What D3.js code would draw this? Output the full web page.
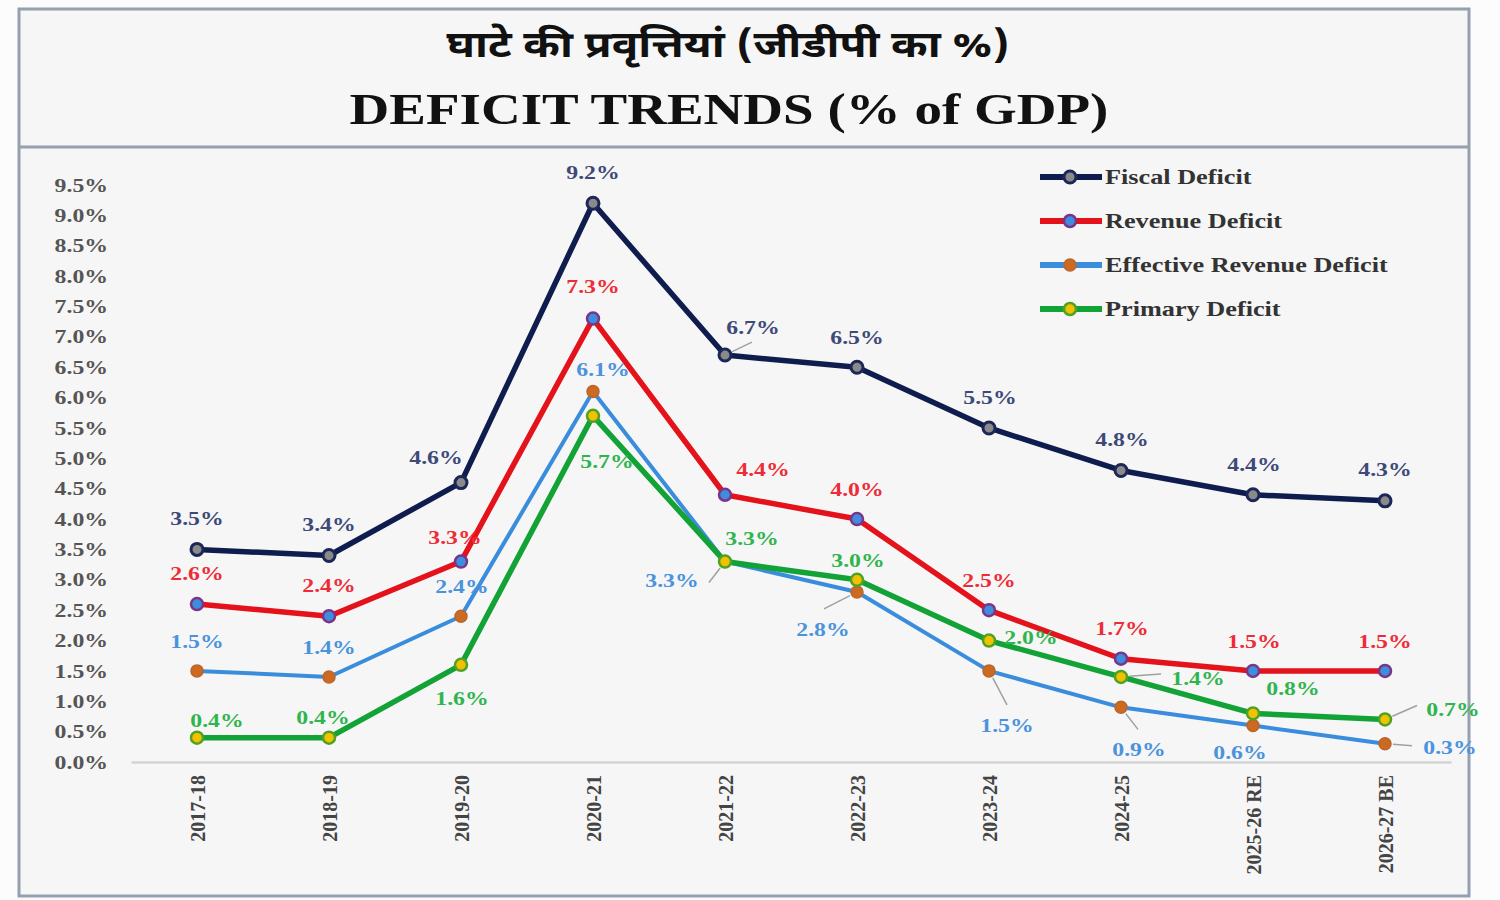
<!doctype html>
<html lang="en">
<head>
<meta charset="utf-8">
<title>Deficit Trends</title>
<script src="https://d3js.org/d3.v7.min.js"></script>
<style>
  html, body { margin: 0; padding: 0; background: #fcfcfc; }
  svg text { font-family: "Liberation Serif", "Times New Roman", serif; font-weight: bold; }
  .hindi { font-family: "Noto Sans Devanagari", "Lohit Devanagari", "FreeSerif", "Noto Sans", sans-serif; }
</style>
</head>
<body>
<div id="chart"></div>
<script>
// ---- data ----
var years = ["2017-18", "2018-19", "2019-20", "2020-21", "2021-22", "2022-23",
             "2023-24", "2024-25", "2025-26 RE", "2026-27 BE"];
var fiscalDeficit    = [3.5, 3.4, 4.6, 9.2, 6.7, 6.5, 5.5, 4.8, 4.4, 4.3];
var revenueDeficit   = [2.6, 2.4, 3.3, 7.3, 4.4, 4.0, 2.5, 1.7, 1.5, 1.5];
var effectiveDeficit = [1.5, 1.4, 2.4, 6.1, 3.3, 2.8, 1.5, 0.9, 0.6, 0.3];
var primaryDeficit   = [0.4, 0.4, 1.6, 5.7, 3.3, 3.0, 2.0, 1.4, 0.8, 0.7];
var seriesNames = ["Fiscal Deficit", "Revenue Deficit", "Effective Revenue Deficit", "Primary Deficit"];
var yTickValues = [0, 0.5, 1, 1.5, 2, 2.5, 3, 3.5, 4, 4.5, 5, 5.5, 6, 6.5, 7, 7.5, 8, 8.5, 9, 9.5];

// label placement relative to each point: [dx, dy] or [dx, dy, leaderX, leaderY]
var fiscalLabelPos = [[0,-31],[0,-31],[-25,-25],[0,-31],[28,-28,27,-13],[0,-30],[1,-31],[1,-31],[1,-30],[0,-31]];
var revenueLabelPos = [[0,-31],[0,-31],[-6,-24],[0,-32],[38,-25],[0,-30],[0,-30],[1,-30],[1,-30],[0,-30]];
var effectiveLabelPos = [[0,-30],[0,-30],[1,-30],[10,-22],[-53,19,-16,21],[-34,37,-33,17],[18,54,18,34],[18,42,17,22],[-13,27],[65,4,27,2]];
var primaryLabelPos = [[20,-17],[-6,-20],[1,34],[14,46],[27,-23],[1,-19],[42,-3],[77,1,40,-3],[40,-25],[68,-10,32,-14]];

var styles = [
  {line: "#0f1d4e", width: 5.5, fill: "#8a8a8a", stroke: "#1c2757", sw: 3, label: "#3d4a78"},
  {line: "#e3121b", width: 5.5, fill: "#3d8fdd", stroke: "#7b3488", sw: 2.5, label: "#ee2c36"},
  {line: "#3a8ddc", width: 4, fill: "#cc6a22", stroke: "#b9652d", sw: 1.5, label: "#4b93dc"},
  {line: "#12a235", width: 5.5, fill: "#f2c200", stroke: "#4fa224", sw: 2.5, label: "#30b54e"}
];

var series = [fiscalDeficit, revenueDeficit, effectiveDeficit, primaryDeficit].map(function(v, i) {
  return {name: seriesNames[i], values: v,
          pos: [fiscalLabelPos, revenueLabelPos, effectiveLabelPos, primaryLabelPos][i],
          style: styles[i]};
});

var W = 1500, H = 900, sx = 1.25;

var svg = d3.select("#chart").append("svg")
  .attr("width", W).attr("height", H);

// frame
svg.append("rect")
  .attr("x", 19).attr("y", 9).attr("width", 1450).attr("height", 887)
  .attr("fill", "#f6f6f6").attr("stroke", "#95a0b0").attr("stroke-width", 3);
svg.append("line")
  .attr("x1", 19).attr("x2", 1469).attr("y1", 147).attr("y2", 147)
  .attr("stroke", "#95a0b0").attr("stroke-width", 3);

// titles
svg.append("text").attr("class", "hindi")
  .attr("x", 728).attr("y", 57)
  .attr("text-anchor", "middle")
  .attr("font-size", 36)
  .attr("fill", "#111")
  .attr("textLength", 563).attr("lengthAdjust", "spacingAndGlyphs")
  .text("घाटे की प्रवृत्तियां (जीडीपी का %)");

svg.append("text")
  .attr("transform", "translate(729,124) scale(" + sx + ",1)")
  .attr("text-anchor", "middle")
  .attr("font-size", 44)
  .attr("fill", "#111")
  .text("DEFICIT TRENDS (% of GDP)");

// scales
var x = d3.scalePoint().domain(years).range([131, 1451]).padding(0.5);
var y = d3.scaleLinear().domain([0, 9.5]).range([762, 185]);

// x axis
var xAxis = svg.append("g")
  .attr("transform", "translate(0,762)")
  .call(d3.axisBottom(x).tickSize(0));
xAxis.select(".domain").attr("stroke", "#d4d4d4").attr("stroke-width", 2.5);
xAxis.selectAll("text")
  .attr("transform", "rotate(-90)")
  .attr("x", -13).attr("y", 0).attr("dy", "0.35em")
  .style("text-anchor", "end")
  .attr("font-size", 20)
  .attr("fill", "#444")
  .attr("font-family", "Liberation Serif, serif").attr("font-weight", "bold");

// y axis labels
var fmt = d3.format(".1f");
svg.append("g").selectAll("text")
  .data(yTickValues)
  .enter().append("text")
    .attr("transform", function(d) { return "translate(108," + y(d) + ") scale(" + sx + ",1)"; })
    .attr("dy", "0.35em")
    .attr("text-anchor", "end")
    .attr("font-size", 19)
    .attr("fill", "#555")
    .text(function(d) { return fmt(d) + "%"; });

var line = d3.line()
  .x(function(d, i) { return x(years[i]); })
  .y(function(d) { return y(d); });

// lines + markers
series.forEach(function(s) {
  var g = svg.append("g");
  g.append("path")
    .datum(s.values)
    .attr("d", line)
    .attr("fill", "none")
    .attr("stroke", s.style.line)
    .attr("stroke-width", s.style.width)
    .attr("stroke-linejoin", "round");
  g.selectAll("circle")
    .data(s.values)
    .enter().append("circle")
      .attr("cx", function(d, i) { return x(years[i]); })
      .attr("cy", function(d) { return y(d); })
      .attr("r", 6)
      .attr("fill", s.style.fill)
      .attr("stroke", s.style.stroke)
      .attr("stroke-width", s.style.sw);
});

// data labels + leader lines
series.forEach(function(s) {
  var g = svg.append("g");
  s.values.forEach(function(v, i) {
    var px = x(years[i]), py = y(v), p = s.pos[i];
    if (p.length > 2) {
      var len = Math.sqrt(p[2] * p[2] + p[3] * p[3]);
      g.append("line")
        .attr("x1", px + p[2] / len * 8).attr("y1", py + p[3] / len * 8)
        .attr("x2", px + p[2]).attr("y2", py + p[3])
        .attr("stroke", "#a0a0a0").attr("stroke-width", 1.5);
    }
    g.append("text")
      .attr("transform", "translate(" + (px + p[0]) + "," + (py + p[1]) + ") scale(" + sx + ",1)")
      .attr("dy", "0.35em")
      .attr("text-anchor", "middle")
      .attr("font-size", 19)
      .attr("fill", s.style.label)
      .text(fmt(v) + "%");
  });
});

// legend
var legend = svg.append("g");
series.forEach(function(s, i) {
  var ly = 177 + i * 44;
  legend.append("line")
    .attr("x1", 1040).attr("x2", 1102).attr("y1", ly).attr("y2", ly)
    .attr("stroke", s.style.line).attr("stroke-width", 6);
  legend.append("circle")
    .attr("cx", 1070).attr("cy", ly).attr("r", 6)
    .attr("fill", s.style.fill)
    .attr("stroke", s.style.stroke)
    .attr("stroke-width", s.style.sw);
  legend.append("text")
    .attr("transform", "translate(1105," + ly + ") scale(" + sx + ",1)")
    .attr("dy", "0.35em")
    .attr("font-size", 21)
    .attr("fill", "#333")
    .text(s.name);
});
</script>
</body>
</html>
